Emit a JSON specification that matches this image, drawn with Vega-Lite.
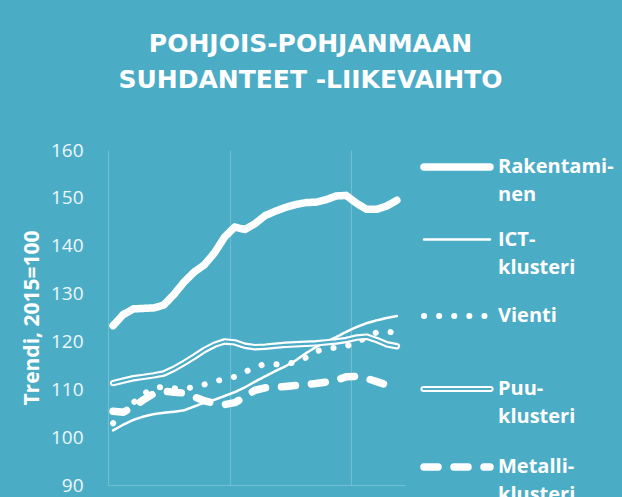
{
  "$schema": "https://vega.github.io/schema/vega-lite/v6.json",
  "width": 297,
  "height": 335,
  "autosize": {"type": "none"},
  "padding": {"left": 108, "top": 150, "right": 217, "bottom": 12},
  "background": "#4BACC6",
  "config": {"view": {"stroke": null}},
  "title": {
    "text": ["POHJOIS-POHJANMAAN", "SUHDANTEET -LIIKEVAIHTO"],
    "anchor": "middle",
    "frame": "group",
    "dx": 54,
    "offset": 37,
    "font": "DejaVu Sans",
    "fontSize": 25,
    "fontWeight": "bold",
    "color": "white",
    "lineHeight": 36
  },
  "data": {
    "values": [
      {"m": 0.5, "Rakentaminen": 123.3, "ICT-klusteri": 101.4, "Vienti": 102.9, "Puu-klusteri": 111.3, "Metalli-klusteri": 105.4},
      {"m": 1.5, "Rakentaminen": 125.6, "ICT-klusteri": 102.6, "Vienti": 105.0, "Puu-klusteri": 111.8, "Metalli-klusteri": 105.2},
      {"m": 2.5, "Rakentaminen": 126.8, "ICT-klusteri": 103.6, "Vienti": 107.2, "Puu-klusteri": 112.3, "Metalli-klusteri": 106.3},
      {"m": 3.5, "Rakentaminen": 126.9, "ICT-klusteri": 104.3, "Vienti": 109.0, "Puu-klusteri": 112.6, "Metalli-klusteri": 107.8},
      {"m": 4.5, "Rakentaminen": 127.0, "ICT-klusteri": 104.8, "Vienti": 110.3, "Puu-klusteri": 112.9, "Metalli-klusteri": 109.1},
      {"m": 5.5, "Rakentaminen": 127.6, "ICT-klusteri": 105.1, "Vienti": 110.5, "Puu-klusteri": 113.3, "Metalli-klusteri": 109.6},
      {"m": 6.5, "Rakentaminen": 129.8, "ICT-klusteri": 105.3, "Vienti": 110.2, "Puu-klusteri": 114.3, "Metalli-klusteri": 109.4},
      {"m": 7.5, "Rakentaminen": 132.4, "ICT-klusteri": 105.6, "Vienti": 110.1, "Puu-klusteri": 115.5, "Metalli-klusteri": 109.2},
      {"m": 8.5, "Rakentaminen": 134.5, "ICT-klusteri": 106.4, "Vienti": 110.5, "Puu-klusteri": 116.8, "Metalli-klusteri": 108.4},
      {"m": 9.5, "Rakentaminen": 136.0, "ICT-klusteri": 107.2, "Vienti": 111.0, "Puu-klusteri": 118.2, "Metalli-klusteri": 107.6},
      {"m": 10.5, "Rakentaminen": 138.5, "ICT-klusteri": 107.8, "Vienti": 111.6, "Puu-klusteri": 119.3, "Metalli-klusteri": 107.1},
      {"m": 11.5, "Rakentaminen": 141.8, "ICT-klusteri": 108.6, "Vienti": 112.2, "Puu-klusteri": 120.0, "Metalli-klusteri": 106.8},
      {"m": 12.5, "Rakentaminen": 143.9, "ICT-klusteri": 109.4, "Vienti": 112.6, "Puu-klusteri": 119.8, "Metalli-klusteri": 107.2},
      {"m": 13.5, "Rakentaminen": 143.4, "ICT-klusteri": 110.4, "Vienti": 113.6, "Puu-klusteri": 119.1, "Metalli-klusteri": 108.4},
      {"m": 14.5, "Rakentaminen": 144.6, "ICT-klusteri": 111.6, "Vienti": 114.6, "Puu-klusteri": 118.8, "Metalli-klusteri": 109.8},
      {"m": 15.5, "Rakentaminen": 146.3, "ICT-klusteri": 112.7, "Vienti": 115.3, "Puu-klusteri": 118.9, "Metalli-klusteri": 110.3},
      {"m": 16.5, "Rakentaminen": 147.2, "ICT-klusteri": 113.8, "Vienti": 115.2, "Puu-klusteri": 119.1, "Metalli-klusteri": 110.4},
      {"m": 17.5, "Rakentaminen": 148.0, "ICT-klusteri": 114.8, "Vienti": 115.3, "Puu-klusteri": 119.3, "Metalli-klusteri": 110.6},
      {"m": 18.5, "Rakentaminen": 148.6, "ICT-klusteri": 116.0, "Vienti": 115.6, "Puu-klusteri": 119.4, "Metalli-klusteri": 110.8},
      {"m": 19.5, "Rakentaminen": 149.0, "ICT-klusteri": 117.5, "Vienti": 116.6, "Puu-klusteri": 119.5, "Metalli-klusteri": 111.0},
      {"m": 20.5, "Rakentaminen": 149.1, "ICT-klusteri": 118.8, "Vienti": 117.9, "Puu-klusteri": 119.6, "Metalli-klusteri": 111.2},
      {"m": 21.5, "Rakentaminen": 149.6, "ICT-klusteri": 119.9, "Vienti": 118.5, "Puu-klusteri": 119.8, "Metalli-klusteri": 111.5},
      {"m": 22.5, "Rakentaminen": 150.4, "ICT-klusteri": 120.9, "Vienti": 118.7, "Puu-klusteri": 120.0, "Metalli-klusteri": 111.9},
      {"m": 23.5, "Rakentaminen": 150.5, "ICT-klusteri": 122.0, "Vienti": 119.0, "Puu-klusteri": 120.3, "Metalli-klusteri": 112.6},
      {"m": 24.5, "Rakentaminen": 148.9, "ICT-klusteri": 123.0, "Vienti": 119.8, "Puu-klusteri": 120.8, "Metalli-klusteri": 112.7},
      {"m": 25.5, "Rakentaminen": 147.6, "ICT-klusteri": 123.8, "Vienti": 120.8, "Puu-klusteri": 121.0, "Metalli-klusteri": 112.3},
      {"m": 26.5, "Rakentaminen": 147.6, "ICT-klusteri": 124.4, "Vienti": 121.9, "Puu-klusteri": 120.3, "Metalli-klusteri": 111.6},
      {"m": 27.5, "Rakentaminen": 148.3, "ICT-klusteri": 124.9, "Vienti": 122.1, "Puu-klusteri": 119.4, "Metalli-klusteri": 110.9},
      {"m": 28.5, "Rakentaminen": 149.5, "ICT-klusteri": 125.3, "Vienti": 121.7, "Puu-klusteri": 119.0, "Metalli-klusteri": 110.4}
    ]
  },
  "transform": [
    {"fold": ["Rakentaminen", "ICT-klusteri", "Vienti", "Puu-klusteri", "Metalli-klusteri"], "as": ["series", "v"]}
  ],
  "encoding": {
    "x": {
      "field": "m",
      "type": "quantitative",
      "scale": {"domain": [0, 29.3], "nice": false, "zero": false},
      "axis": {
        "values": [0, 12, 24],
        "labels": false,
        "ticks": false,
        "title": null,
        "grid": true,
        "gridColor": "white",
        "gridOpacity": 0.22,
        "domainColor": "white",
        "domainOpacity": 0.22
      }
    },
    "y": {
      "field": "v",
      "type": "quantitative",
      "scale": {"domain": [90, 160], "nice": false, "zero": false},
      "axis": {
        "values": [90, 100, 110, 120, 130, 140, 150, 160],
        "grid": false,
        "domain": false,
        "ticks": false,
        "labelPadding": 25,
        "labelFont": "Open Sans",
        "labelFontSize": 19,
        "labelColor": "#eef7fa",
        "title": "Trendi, 2015=100",
        "titleFont": "Open Sans",
        "titleFontSize": 21,
        "titleFontWeight": "bold",
        "titleColor": "white",
        "titlePadding": 8
      }
    }
  },
  "layer": [
    {
      "transform": [{"filter": "datum.series == 'Puu-klusteri'"}],
      "mark": {"type": "line", "strokeCap": "round", "strokeJoin": "round", "color": "white", "strokeWidth": 6.5}
    },
    {
      "mark": {"type": "line", "strokeCap": "round", "strokeJoin": "round"},
      "encoding": {
        "color": {
          "field": "series",
          "type": "nominal",
          "scale": {
            "domain": ["Rakentaminen", "ICT-klusteri", "Vienti", "Puu-klusteri", "Metalli-klusteri"],
            "range": ["white", "white", "white", "white", "white"]
          },
          "legend": {
            "title": null,
            "orient": "none",
            "legendX": 312,
            "legendY": -20,
            "padding": 0,
            "rowPadding": 0,
            "gridAlign": "all",
            "symbolType": "stroke",
            "symbolSize": 4356,
            "labelOffset": 4,
            "labelFont": "Open Sans",
            "labelFontSize": 20,
            "labelFontWeight": "bold",
            "labelColor": "white",
            "labelLimit": 300,
            "labelExpr": "datum.label == 'Rakentaminen' ? ['Rakentami-', 'nen'] : datum.label == 'ICT-klusteri' ? ['ICT-', 'klusteri'] : datum.label == 'Puu-klusteri' ? ['Puu-', 'klusteri'] : datum.label == 'Metalli-klusteri' ? ['Metalli-', 'klusteri'] : datum.label",
            "encode": {
              "labels": {"update": {"lineHeight": {"value": 28}}},
              "symbols": {
                "update": {
                  "strokeCap": {"value": "round"},
                  "shape": {"signal": "datum.value == 'Puu-klusteri' ? 'M-1.02,-0.06 H1.02 A0.06,0.06 0 0 1 1.02,0.06 H-1.02 A0.06,0.06 0 0 1 -1.02,-0.06 Z' : 'stroke'"},
                  "fill": {"value": "transparent"}
                }
              }
            }
          }
        },
        "strokeDash": {
          "field": "series",
          "type": "nominal",
          "scale": {
            "domain": ["Rakentaminen", "ICT-klusteri", "Vienti", "Puu-klusteri", "Metalli-klusteri"],
            "range": [[1, 0], [1, 0], [0.1, 15], [1, 0], [14, 16]]
          }
        },
        "strokeWidth": {
          "field": "series",
          "type": "nominal",
          "scale": {
            "type": "ordinal",
            "domain": ["Rakentaminen", "ICT-klusteri", "Vienti", "Puu-klusteri", "Metalli-klusteri"],
            "range": [7.5, 2.5, 6, 2, 7.5]
          }
        }
      }
    },
    {
      "transform": [{"filter": "datum.series == 'Puu-klusteri'"}],
      "mark": {"type": "line", "strokeCap": "round", "strokeJoin": "round", "color": "#4BACC6", "strokeWidth": 2.2}
    }
  ]
}
